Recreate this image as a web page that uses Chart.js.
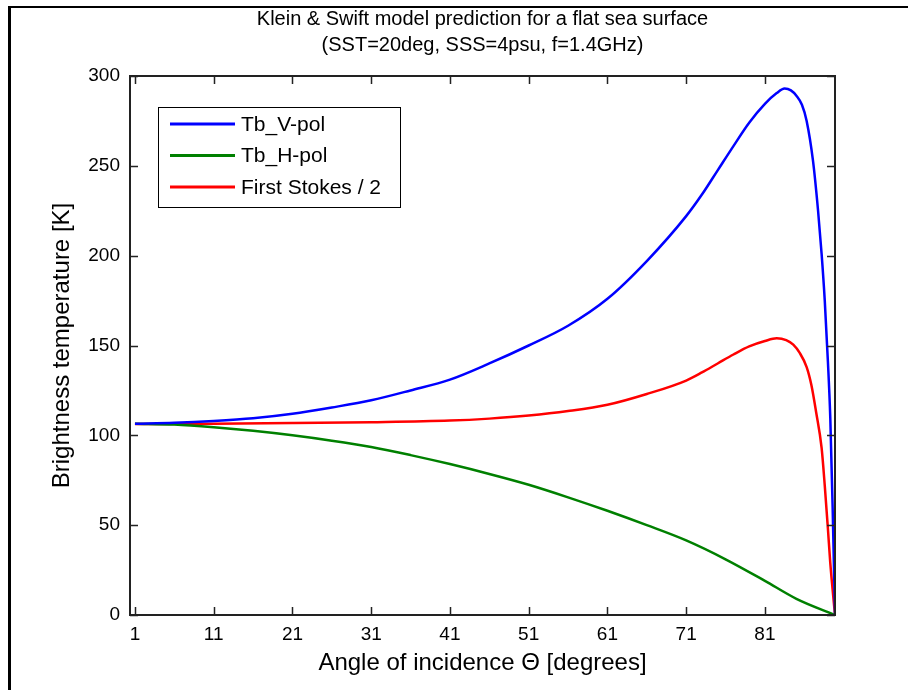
<!DOCTYPE html>
<html>
<head>
<meta charset="utf-8">
<script src="https://cdn.jsdelivr.net/npm/chart.js@4.4.1/dist/chart.umd.min.js"></script>
<style>
  html, body { margin: 0; padding: 0; background: #fff; }
  #wrap { position: relative; width: 908px; height: 690px; }
</style>
</head>
<body>
<div id="wrap"><canvas id="chart" width="908" height="690"></canvas></div>
<script>
// values
const angleV = [1, 6, 11, 16, 21, 26, 31, 36, 41, 46, 51, 56, 61, 66, 71, 73, 75, 77, 79, 81, 82.5, 83.5, 84.3, 85, 85.7, 86.3, 87.1, 87.75, 88.2, 88.6, 89.0, 89.3, 89.6, 89.9];
const tbV    = [106.5, 107, 108, 109.5, 112, 115.5, 119.5, 125, 131, 140, 150, 161, 176, 197, 222, 234, 247.5, 261, 274, 284.5, 290.5, 293, 292, 289, 284, 275, 253, 225, 201, 175, 141, 110, 60, 0];

const angleH = [1, 6, 11, 16, 21, 26, 31, 36, 41, 46, 51, 56, 61, 66, 71, 76, 81, 85, 89.9];
const tbH    = [106.5, 106, 104.5, 102.5, 100, 97, 93.5, 89, 84, 78.5, 72.5, 65.5, 58, 50, 41.5, 31, 19, 9, 0];

const angleI = [1, 11, 21, 31, 41, 46, 51, 56, 61, 66, 71, 73, 75, 77, 79, 81, 82.5, 83.7, 84.6, 85.4, 86.3, 86.9, 87.5, 88.2, 88.6, 89.0, 89.3, 89.6, 89.9];
const tbI    = [106.3, 106.5, 106.8, 107.3, 108.2, 109.3, 111, 113.5, 117, 123, 130.5, 135, 140, 145, 149.5, 152.5, 154, 153, 150.5, 146, 138, 128, 113, 93, 72, 48, 29, 14, 0];

const xTicks = [1, 11, 21, 31, 41, 51, 61, 71, 81];
const yTicks = [0, 50, 100, 150, 200, 250, 300];

const seriesNames = ['Tb_V-pol', 'Tb_H-pol', 'First Stokes / 2'];
const seriesColors = ['#0000ff', '#008000', '#ff0000'];

const toPoints = (xs, ys) => xs.map((x, i) => ({ x: x, y: ys[i] }));

const FONT = 'Liberation Sans, Arial, sans-serif';

// white page, frame lines, title, inside ticks, box and legend
const matlabLook = {
  id: 'matlabLook',
  beforeDraw(chart) {
    const ctx = chart.ctx;
    ctx.save();
    ctx.fillStyle = '#fff';
    ctx.fillRect(0, 0, chart.width, chart.height);
    ctx.fillStyle = '#000';
    ctx.fillRect(8, 6, 3, chart.height - 6);
    ctx.fillRect(8, 6, chart.width - 8, 2);
    ctx.restore();
  },
  afterDatasetsDraw(chart) {
    const ctx = chart.ctx;
    const { left, right, top, bottom } = chart.chartArea;
    const xs = chart.scales.x, ys = chart.scales.y;
    ctx.save();
    ctx.strokeStyle = '#222';
    ctx.lineWidth = 2;
    ctx.strokeRect(left, top, right - left, bottom - top);
    ctx.lineWidth = 1.5;
    ctx.beginPath();
    xTicks.forEach(v => {
      const p = Math.round(xs.getPixelForValue(v)) + 0.5;
      ctx.moveTo(p, bottom); ctx.lineTo(p, bottom - 8);
      ctx.moveTo(p, top); ctx.lineTo(p, top + 8);
    });
    yTicks.forEach(v => {
      const p = Math.round(ys.getPixelForValue(v)) + 0.5;
      ctx.moveTo(left, p); ctx.lineTo(left + 8, p);
      ctx.moveTo(right, p); ctx.lineTo(right - 8, p);
    });
    ctx.stroke();

    // title, centred over the axes
    const cx = (left + right) / 2;
    ctx.fillStyle = '#000';
    ctx.textAlign = 'center';
    ctx.textBaseline = 'middle';
    ctx.font = '20px ' + FONT;
    ctx.fillText('Klein & Swift model prediction for a flat sea surface', cx, 19);
    ctx.fillText('(SST=20deg, SSS=4psu, f=1.4GHz)', cx, 45);

    // legend box
    const bx = left + 28, by = top + 31, bw = 242, bh = 100;
    ctx.fillStyle = '#fff';
    ctx.fillRect(bx, by, bw, bh);
    ctx.strokeStyle = '#000';
    ctx.lineWidth = 1;
    ctx.strokeRect(bx + 0.5, by + 0.5, bw, bh);
    ctx.font = '21px ' + FONT;
    ctx.textAlign = 'left';
    chart.data.datasets.forEach((ds, i) => {
      const ly = by + 17 + i * 31.5;
      ctx.strokeStyle = ds.borderColor;
      ctx.lineWidth = 3;
      ctx.beginPath();
      ctx.moveTo(bx + 12, ly); ctx.lineTo(bx + 77, ly);
      ctx.stroke();
      ctx.fillStyle = '#000';
      ctx.fillText(ds.label, bx + 83, ly + 1);
    });
    ctx.restore();
  }
};

new Chart(document.getElementById('chart'), {
  type: 'line',
  data: {
    datasets: [
      { label: seriesNames[0], data: toPoints(angleV, tbV), borderColor: seriesColors[0] },
      { label: seriesNames[1], data: toPoints(angleH, tbH), borderColor: seriesColors[1] },
      { label: seriesNames[2], data: toPoints(angleI, tbI), borderColor: seriesColors[2] }
    ]
  },
  options: {
    responsive: false,
    animation: false,
    devicePixelRatio: 1,
    layout: { padding: { top: 76, right: 73, left: 0, bottom: 0 } },
    elements: {
      point: { radius: 0 },
      line: { borderWidth: 2.5, cubicInterpolationMode: 'monotone', fill: false }
    },
    plugins: {
      legend: { display: false },
      title: { display: false },
      tooltip: { enabled: false }
    },
    scales: {
      x: {
        type: 'linear',
        min: 0.37,
        max: 89.9,
        afterBuildTicks: (scale) => { scale.ticks = xTicks.map(v => ({ value: v })); },
        afterFit: (scale) => { scale.height = 75; },
        grid: { display: false, drawTicks: false },
        border: { display: false },
        ticks: { color: '#000', font: { family: FONT, size: 19 }, padding: 8, maxRotation: 0, autoSkip: false },
        title: {
          display: true,
          text: 'Angle of incidence Θ [degrees]',
          color: '#000',
          font: { family: FONT, size: 24 },
          padding: { top: 0, bottom: 12 }
        }
      },
      y: {
        min: 0,
        max: 300,
        afterBuildTicks: (scale) => { scale.ticks = yTicks.map(v => ({ value: v })); },
        afterFit: (scale) => { scale.width = 130; },
        grid: { display: false, drawTicks: false },
        border: { display: false },
        ticks: { color: '#000', font: { family: FONT, size: 19 }, padding: 10 },
        title: {
          display: true,
          text: 'Brightness temperature [K]',
          color: '#000',
          font: { family: FONT, size: 24 },
          padding: { top: 48, bottom: 0 }
        }
      }
    }
  },
  plugins: [matlabLook]
});
</script>
</body>
</html>
